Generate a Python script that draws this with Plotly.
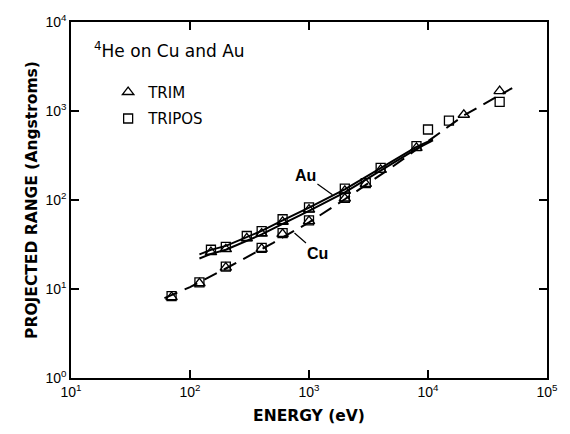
import plotly.graph_objects as go

# ---- data ----
# Au, both codes (markers)
au_trim_E = [150, 200, 300, 400, 600, 1000, 2000, 4000, 8000]
au_trim_R = [26.0, 28.0, 37.0, 42.0, 57.0, 78.0, 127, 218, 385]
au_tripos_E = [150, 200, 300, 400, 600, 1000, 2000, 4000, 8000]
au_tripos_R = [27.6, 29.8, 39.4, 44.8, 60.8, 82.6, 134, 229, 402]

# Cu, both codes (markers)
cu_trim_E = [70, 120, 200, 400, 600, 1000, 2000, 3000, 20000, 40000]
cu_trim_R = [8.1, 11.6, 17.4, 28.3, 41.5, 57.8, 104, 152, 908, 1675]
cu_tripos_E = [70, 120, 200, 400, 600, 1000, 2000, 3000, 10000, 15000, 40000]
cu_tripos_R = [8.3, 11.9, 17.8, 29.0, 42.5, 59.0, 106, 155, 620, 780, 1266]

# fitted curves
au_line1_E = [120, 150, 200, 300, 400, 600, 1000, 2000, 4000, 8000, 11000]
au_line1_R = [24.5, 27.5, 30.5, 38.5, 45.0, 59.0, 82.0, 132, 228, 395, 480]
au_line2_E = [120, 150, 200, 300, 400, 600, 1000, 2000, 4000, 8000, 11000]
au_line2_R = [22.0, 24.8, 27.6, 35.0, 41.0, 54.0, 75.5, 122, 212, 375, 468]
cu_line_E = [61, 100, 200, 500, 1000, 2000, 5000, 10000, 20000, 51000]
cu_line_R = [7.9, 10.5, 17.0, 33.0, 56.0, 102, 235, 460, 890, 1810]

x_tickvals = [10, 100, 1000, 10000, 100000]
x_ticktext = ["10<sup>1</sup>", "10<sup>2</sup>", "10<sup>3</sup>", "10<sup>4</sup>", "10<sup>5</sup>"]
y_tickvals = [1, 10, 100, 1000, 10000]
y_ticktext = ["10<sup>0</sup>", "10<sup>1</sup>", "10<sup>2</sup>", "10<sup>3</sup>", "10<sup>4</sup>"]

FONT = "DejaVu Sans"
TICKFONT = "Liberation Sans"
fig = go.Figure()

line_style = dict(color="black", width=2)
fig.add_trace(go.Scatter(x=au_line1_E, y=au_line1_R, mode="lines", line=line_style,
                         showlegend=False, hoverinfo="skip"))
fig.add_trace(go.Scatter(x=au_line2_E, y=au_line2_R, mode="lines", line=line_style,
                         showlegend=False, hoverinfo="skip"))
fig.add_trace(go.Scatter(x=cu_line_E, y=cu_line_R, mode="lines",
                         line=dict(color="black", width=2, dash="14px,8px"),
                         showlegend=False, hoverinfo="skip"))

tri = dict(symbol="triangle-up-open", size=10, color="black", line=dict(width=1.3, color="black"))
sq = dict(symbol="square-open", size=9, color="black", line=dict(width=1.3, color="black"))

fig.add_trace(go.Scatter(x=au_tripos_E, y=au_tripos_R, mode="markers", marker=sq,
                         showlegend=False))
fig.add_trace(go.Scatter(x=cu_tripos_E, y=cu_tripos_R, mode="markers", marker=sq,
                         name="TRIPOS", legendgroup="b", legendrank=2))
fig.add_trace(go.Scatter(x=au_trim_E, y=au_trim_R, mode="markers", marker=tri,
                         showlegend=False))
fig.add_trace(go.Scatter(x=cu_trim_E, y=cu_trim_R, mode="markers", marker=tri,
                         name="TRIM", legendgroup="a", legendrank=1))

axis_common = dict(
    showline=True, linecolor="black", linewidth=1.5, mirror="ticks",
    ticks="inside", ticklen=8, tickwidth=1.5, tickcolor="black",
    showgrid=False, zeroline=False,
    tickfont=dict(family=TICKFONT, size=14, color="black"),
)

fig.update_layout(
    width=570, height=434,
    margin=dict(l=71, r=22, t=18, b=55),
    paper_bgcolor="white", plot_bgcolor="white",
    xaxis=dict(type="log", range=[1, 5], tickvals=x_tickvals, ticktext=x_ticktext,
               title=dict(text="ENERGY (eV)",
                          font=dict(family=FONT, size=15.5, color="black", weight="bold"),
                          standoff=12),
               **axis_common),
    yaxis=dict(type="log", range=[0, 4], tickvals=y_tickvals, ticktext=y_ticktext,
               title=dict(text="PROJECTED RANGE (Angstroms)",
                          font=dict(family=FONT, size=15.5, color="black", weight="bold"),
                          standoff=4),
               **axis_common),
    legend=dict(x=0.078, y=0.849, xanchor="left", yanchor="top",
                bgcolor="rgba(0,0,0,0)", font=dict(family=FONT, size=15, color="black"),
                traceorder="grouped", tracegroupgap=4, itemwidth=30),
    annotations=[
        dict(text="<sup>4</sup>He on Cu and Au", xref="paper", yref="paper",
             x=0.044, y=0.922, xanchor="left", yanchor="middle", showarrow=False,
             font=dict(family=FONT, size=17, color="black")),
        dict(text="<b>Au</b>", x=3.197, y=2.06, xref="x", yref="y",
             showarrow=True, arrowhead=0, arrowwidth=1.2, arrowcolor="black",
             ax=-27, ay=-19, font=dict(family="Liberation Sans", size=16, color="black")),
        dict(text="<b>Cu</b>", x=2.878, y=1.629, xref="x", yref="y",
             showarrow=True, arrowhead=0, arrowwidth=1.2, arrowcolor="black",
             ax=23, ay=20, font=dict(family="Liberation Sans", size=16, color="black")),
    ],
)

fig.write_html("out.html",
               config={"displayModeBar": False},
               post_script="document.body.style.margin='0';document.body.style.overflow='hidden';")
